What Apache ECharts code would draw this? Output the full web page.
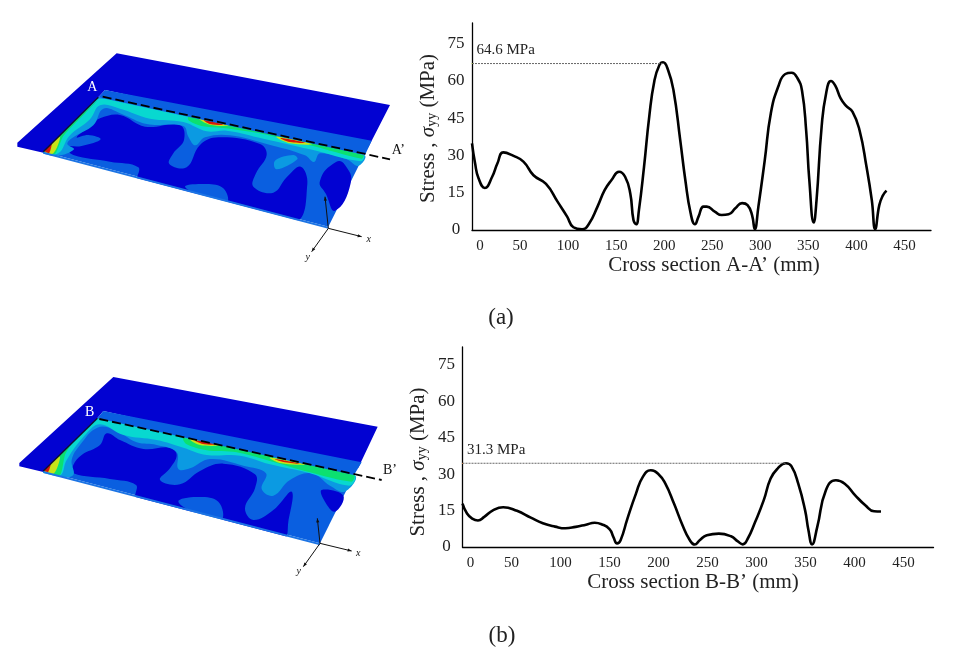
<!DOCTYPE html>
<html><head><meta charset="utf-8">
<style>html,body{margin:0;padding:0;background:#fff}#c{width:956px;height:655px}</style>
<script src="https://cdn.jsdelivr.net/npm/echarts@6/dist/echarts.min.js"></script></head>
<body><div id="c"></div>
<script>
const yTicks = [0, 15, 30, 45, 60, 75];
const xTicks = [0, 50, 100, 150, 200, 250, 300, 350, 400, 450];
const stressA = [[0,34.8],[3.2,26.8],[6.8,20.8],[13.3,16.9],[21,21.4],[26.5,26.8],[32.6,31.2],[42.7,29.9],[53.5,27.5],[64,22],[77,18.5],[89,11.4],[99,5.4],[105.5,1.1],[114.5,0.3],[121.6,2.4],[130.6,9.4],[138,16],[145,20],[153,23.4],[159.3,21.4],[164.7,14.7],[168,4],[170.8,2.3],[173.7,8],[179,25.4],[184.4,45.5],[189.8,60],[195,66.3],[198.8,67.4],[204,64.3],[209.6,56.3],[216.7,36],[222,20],[227.5,6.7],[232,2.3],[235.7,5.4],[240.8,9.4],[244.3,9.4],[252.6,7.4],[259.8,6],[267,6.3],[274,8.7],[281,10.8],[286.7,10],[291.4,6],[294.2,0.3],[298,9.4],[304.6,28],[311,47],[319,58],[326,62.7],[332.6,63.2],[338.7,61],[343.4,56],[347.7,40],[351,20],[355.6,3],[358.5,12],[363.8,41.5],[368.5,55],[373.5,59.9],[378,58],[383.6,52.9],[389,50],[396,47.5],[403.3,40],[410.5,25.4],[416,12],[419.5,0.4],[423.8,10],[427.3,13.7],[431.3,15.8]];
const stressB = [[0,17.9],[4.6,13.8],[9.9,11.7],[15.8,10.9],[22.2,12.4],[31,15.1],[41.5,16.4],[55.6,14.9],[69.7,12.1],[82,9.8],[94.4,8.4],[105,7.7],[115.5,8.3],[126,9.2],[134.9,10],[141.9,9.4],[150,7.4],[154,4.1],[157.7,1.5],[161.3,2.8],[168.3,11.7],[177,22],[184,28.9],[192,31.6],[200,30],[207,26.1],[215.8,17.9],[224.6,8.9],[231.7,3],[237,1],[242,2.8],[249.3,4.8],[261.6,5.5],[274,4.4],[281,2.3],[286,1.1],[291,3.4],[298.6,10.3],[307.4,19.3],[314.4,28.2],[321.5,32.3],[330,34.5],[335.6,33.3],[342.6,26.1],[349.6,15.1],[353,6.9],[356.7,1.1],[362,8.3],[370.8,23.4],[381,27.5],[390,26.1],[400.7,21.3],[411,17.2],[420,14.7],[427,14.6]];
const peakA = [[0,66.9],[198.8,66.9]];
const peakB = [[0,34.5],[330,34.5]];
const peakLabelA = '64.6 MPa';
const peakLabelB = '31.3 MPa';

const C = {dark:'#0202d2', mid:'#0a5fe0', light:'#0b9ae2', cyan:'#08d8d0', green:'#0ce070', yel:'#c8e418', org:'#f09010', red:'#d81808'};
const SERIF = '"Liberation Serif","Times New Roman",serif';

function poly(ox, oy, pts, fill, smooth, stroke) {
  return {type:'polygon', silent:true, shape:{points:pts.map(p=>[ox+p[0]/3, oy+p[1]/3]), smooth:smooth||0},
    style:{fill:fill, stroke:stroke||null, lineWidth:stroke?1:0}};
}
function seg(ox, oy, a, b, color, w, dash) {
  return {type:'line', silent:true, shape:{x1:ox+a[0]/3,y1:oy+a[1]/3,x2:ox+b[0]/3,y2:oy+b[1]/3},
    style:{stroke:color,lineWidth:w,lineDash:dash||null}};
}
function txt(x, y, s, size, color, italic) {
  return {type:'text', silent:true, x:x, y:y, style:{text:s, fill:color||'#111', fontFamily:SERIF, fontSize:size, fontStyle:italic?'italic':'normal', textAlign:'center', textVerticalAlign:'middle'}};
}
function arrow(ox, oy, a, b) {
  const dx=b[0]-a[0], dy=b[1]-a[1], l=Math.hypot(dx,dy), ux=dx/l, uy=dy/l, s=12;
  return [seg(ox,oy,a,b,'#111',1),
    poly(ox,oy,[b,[b[0]-ux*s-uy*s*.4,b[1]-uy*s+ux*s*.4],[b[0]-ux*s+uy*s*.4,b[1]-uy*s-ux*s*.4]],'#111')];
}

function panelA(ox, oy) {
  const g = [];
  g.push(poly(ox,oy,[[265,172],[1062,345],[955,560],[100,335]],C.mid));
  g.push(poly(ox,oy,[[270,235],[330,225],[405,260],[510,255],[522,300],[490,340],[478,372],[530,382],[570,315],[625,292],[750,312],[770,345],[738,400],[730,440],[790,458],[830,412],[872,380],[892,432],[855,545],[600,480],[385,425],[385,382],[300,365],[190,345],[170,322],[215,318],[272,298],[235,285],[200,292],[245,255]],C.dark,0.4));
  g.push(poly(ox,oy,[[525,440],[590,432],[640,445],[652,485],[600,475]],C.mid,0.4));
  g.push(poly(ox,oy,[[930,422],[978,366],[1005,375],[1022,430],[975,512],[948,462]],C.dark,0.5));
  g.push(poly(ox,oy,[[265,172],[1062,345],[1045,378],[1010,358],[930,340],[912,366],[885,346],[770,312],[660,286],[585,292],[556,316],[535,290],[520,258],[410,252],[335,222],[280,206],[250,256],[190,292],[172,312],[192,328],[140,348],[100,335]],C.light,0.4));
  g.push(poly(ox,oy,[[795,362],[850,345],[862,358],[800,388]],C.light,0.4));
  g.push(poly(ox,oy,[[268,176],[1060,345],[1052,364],[900,328],[760,296],[650,272],[590,274],[520,246],[420,236],[330,206],[270,196],[240,238],[178,288],[145,340],[100,335]],C.cyan,0.4));
  g.push(poly(ox,oy,[[540,222],[1060,345],[1055,356],[900,316],[760,282],[640,264],[575,258],[535,240]],C.green,0.3));
  g.push(poly(ox,oy,[[262,182],[205,240],[160,288],[135,342],[103,335],[180,255]],C.green,0.2));
  g.push(poly(ox,oy,[[104,335],[128,300],[150,292],[130,340]],C.yel,0.3));
  g.push(poly(ox,oy,[[568,236],[655,256],[600,254]],C.yel,0.4));
  g.push(poly(ox,oy,[[800,290],[905,312],[840,310]],C.yel,0.4));
  g.push(poly(ox,oy,[[105,334],[125,308],[118,338]],C.red,0.3));
  g.push(poly(ox,oy,[[582,240],[640,254],[600,252]],C.red,0.4));
  g.push(poly(ox,oy,[[812,294],[885,308],[835,305]],C.red,0.4));
  g.push(poly(ox,oy,[[90,338],[955,565],[1100,340],[1150,340],[970,640],[80,640]],'#fff'));
  g.push(poly(ox,oy,[[100,335],[955,560],[955,566],[100,341]],'#1c74e4'));
  g.push(poly(ox,oy,[[22,308],[320,40],[1140,195],[1075,322],[285,150],[265,172],[100,335],[100,338],[22,320]],C.dark));
  g.push(poly(ox,oy,[[285,150],[1085,302],[1065,345],[265,172]],C.mid));
  g.push(seg(ox,oy,[100,335],[265,172],'#101030',1.5));
  g.push(seg(ox,oy,[278,170],[1140,358],'#000',1.8,[9,4]));
  g.push(...arrow(ox,oy,[955,565],[1055,590]), ...arrow(ox,oy,[955,565],[905,635]), ...arrow(ox,oy,[955,565],[945,470]));
  g.push(txt(ox+247/3,oy+143/3,'A',14,'#fff'));
  g.push(txt(ox+1165/3,oy+330/3,'A’',14,'#111'));
  g.push(txt(ox+1076/3,oy+598/3,'x',10,'#111',true));
  g.push(txt(ox+893/3,oy+652/3,'y',10,'#111',true));
  return g;
}
function panelB(ox, oy) {
  const g = [];
  g.push(poly(ox,oy,[[262,160],[1032,330],[930,535],[100,318]],C.mid));
  g.push(poly(ox,oy,[[215,270],[270,240],[290,205],[330,225],[400,252],[480,248],[500,270],[480,310],[450,345],[510,358],[570,318],[640,296],[735,328],[735,370],[705,430],[730,465],[790,435],[845,380],[835,470],[820,520],[600,460],[380,400],[378,360],[300,342],[190,325],[190,300]],C.dark,0.4));
  g.push(poly(ox,oy,[[505,410],[560,396],[625,410],[635,465],[570,450]],C.mid,0.4));
  g.push(poly(ox,oy,[[935,375],[1000,392],[975,440],[945,410]],C.dark,0.4));
  g.push(poly(ox,oy,[[262,160],[1032,330],[1005,380],[960,362],[905,325],[840,345],[790,392],[755,372],[768,325],[700,302],[600,282],[540,310],[505,312],[500,262],[440,240],[380,232],[315,195],[262,188],[210,240],[185,285],[190,330],[150,335],[100,318]],C.light,0.4));
  g.push(poly(ox,oy,[[262,160],[1032,330],[1018,362],[900,325],[780,298],[690,272],[590,270],[520,248],[440,225],[340,210],[270,178],[230,205],[170,285],[150,332],[100,318]],C.cyan,0.4));
  g.push(poly(ox,oy,[[520,218],[1032,330],[1024,350],[900,322],[770,285],[680,262],[590,256],[530,238]],C.green,0.3));
  g.push(poly(ox,oy,[[190,225],[165,270],[150,330],[103,318]],C.green,0.2));
  g.push(poly(ox,oy,[[103,318],[125,292],[150,275],[132,325]],C.yel,0.3));
  g.push(poly(ox,oy,[[540,222],[625,240],[570,240]],C.yel,0.4));
  g.push(poly(ox,oy,[[780,278],[885,298],[815,295]],C.yel,0.4));
  g.push(poly(ox,oy,[[104,317],[122,295],[115,320]],C.red,0.3));
  g.push(poly(ox,oy,[[555,226],[615,238],[575,236]],C.red,0.4));
  g.push(poly(ox,oy,[[795,282],[870,296],[825,292]],C.red,0.4));
  g.push(poly(ox,oy,[[90,321],[930,541],[1080,310],[1150,320],[960,620],[80,620]],'#fff'));
  g.push(poly(ox,oy,[[100,318],[930,535],[930,541],[100,324]],'#1c74e4'));
  g.push(poly(ox,oy,[[28,294],[310,36],[1103,185],[1045,308],[280,138],[262,160],[100,318],[100,321],[28,304]],C.dark));
  g.push(poly(ox,oy,[[280,138],[1055,292],[1032,330],[262,160]],C.mid));
  g.push(seg(ox,oy,[100,318],[262,160],'#101030',1.5));
  g.push(seg(ox,oy,[268,162],[1115,345],'#000',1.8,[9,4]));
  g.push(...arrow(ox,oy,[930,535],[1025,558]), ...arrow(ox,oy,[930,535],[880,605]), ...arrow(ox,oy,[930,535],[922,460]));
  g.push(txt(ox+239/3,oy+142/3,'B',14,'#fff'));
  g.push(txt(ox+1140/3,oy+316/3,'B’',14,'#111'));
  g.push(txt(ox+1045/3,oy+565/3,'x',10,'#111',true));
  g.push(txt(ox+866/3,oy+620/3,'y',10,'#111',true));
  return g;
}

function yAxis(idx, ymax, shift) {
  return {type:'value', gridIndex:idx, min:0, max:ymax, interval:15,
    splitLine:{show:false}, axisTick:{show:false},
    axisLine:{show:true, onZero:false, lineStyle:{color:'#000',width:1.3}},
    axisLabel:{fontFamily:SERIF, fontSize:17, color:'#222', align:'center', margin:16,
      formatter:v=>yTicks.includes(v)?String(v):''},
    name:'{t|Stress , }{s|σ}{u|yy}{t| (MPa)}', nameLocation:'middle', nameGap:33, nameRotate:90,
    nameTextStyle:{padding:shift, rich:{
      t:{fontFamily:SERIF,fontSize:21,color:'#222'},
      s:{fontFamily:SERIF,fontSize:21,fontStyle:'italic',color:'#222'},
      u:{fontFamily:SERIF,fontSize:14,color:'#222',padding:[8,0,0,0]}}}};
}
function xAxis(idx, xmax, title, shift) {
  return {type:'value', gridIndex:idx, min:0, max:xmax, interval:50,
    splitLine:{show:false}, axisTick:{show:false},
    axisLine:{show:true, onZero:false, lineStyle:{color:'#000',width:1.3}},
    axisLabel:{fontFamily:SERIF, fontSize:15, color:'#222', margin:9,
      formatter:v=>v===0?'{z|0}':(xTicks.includes(v)?String(v):''),
      rich:{z:{fontFamily:SERIF,fontSize:15,color:'#222',padding:[0,0,0,16]}}},
    name:title, nameLocation:'middle', nameGap:24,
    nameTextStyle:{fontFamily:SERIF, fontSize:21, color:'#222', padding:shift}};
}
function curve(idx, data) {
  return {type:'line', xAxisIndex:idx, yAxisIndex:idx, data:data, smooth:0.5, showSymbol:false, silent:true,
    lineStyle:{color:'#000', width:2.6}};
}
function peak(idx, data, label) {
  return {type:'line', xAxisIndex:idx, yAxisIndex:idx, silent:true, symbol:'none',
    lineStyle:{color:'#666', width:1, type:[2,1]},
    data:[{value:data[0], symbol:'circle', symbolSize:1,
      label:{show:true, formatter:label, position:[5,-20], align:'left', fontFamily:SERIF, fontSize:15, color:'#222'}},
      {value:data[1]}]};
}

const chart = echarts.init(document.getElementById('c'), null, {renderer:'canvas'});
chart.setOption({
  animation:false, backgroundColor:'#fff',
  grid:[{left:472, top:23, width:459, height:207},{left:462.5, top:347, width:471, height:200}],
  xAxis:[xAxis(0,477.6,'Cross section A-A’ (mm)',[0,0,0,25]), xAxis(1,480.6,'Cross section B-B’ (mm)',[0,10,0,0])],
  yAxis:[yAxis(0,83.2,[0,4,0,0]), yAxis(1,82.4,[0,30,0,0])],
  series:[curve(0,stressA), peak(0,peakA,peakLabelA), curve(1,stressB), peak(1,peakB,peakLabelB)],
  graphic:{elements:[...panelA(10,40), ...panelB(10,365),
    txt(501,318,'(a)',23,'#222'), txt(502,636,'(b)',23,'#222')]}
});
</script></body></html>
